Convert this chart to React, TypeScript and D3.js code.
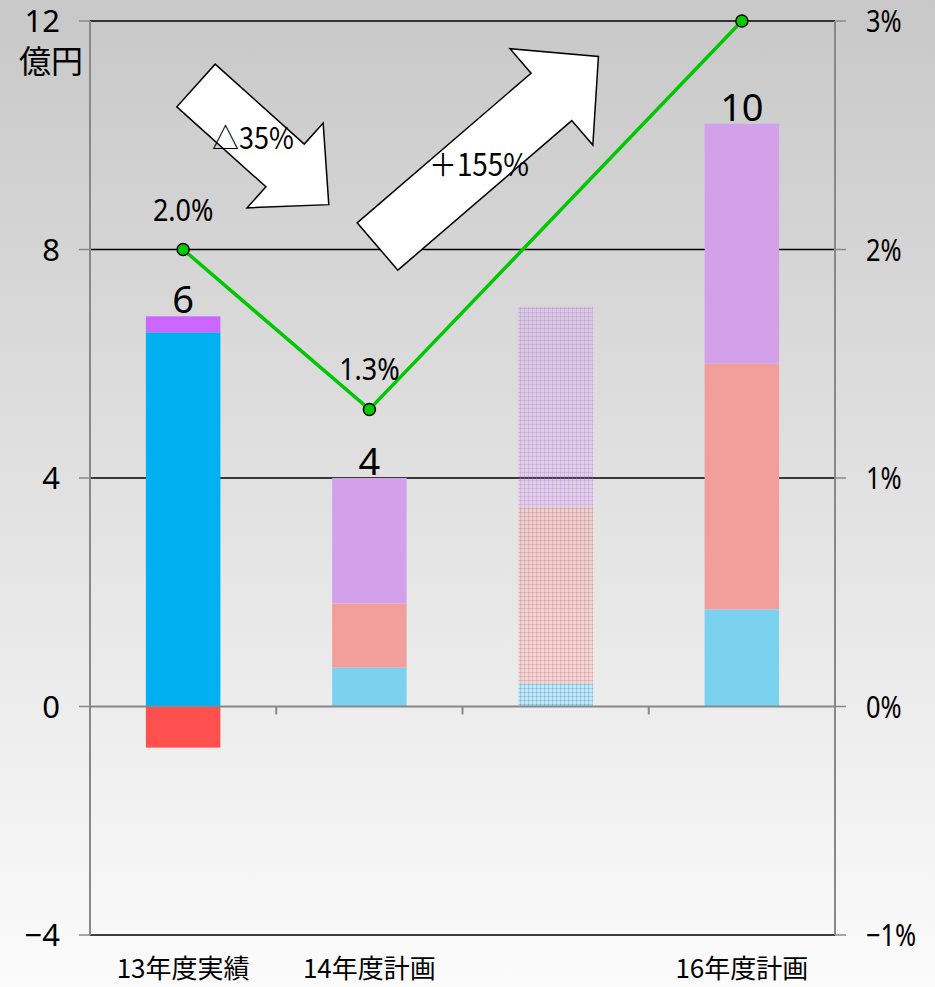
import React from "react";
import * as d3 from "d3";

const categories = ["13年度実績", "14年度計画", "", "16年度計画"];
const blueVals = [6.55, 0.68, 0.4, 1.7];
const redVals = [-0.72, 1.12, 3.1, 4.3];
const purpleVals = [0.28, 2.2, 3.5, 4.2];
const totalLabels = ["6", "4", "", "10"];
const rateVals: (number | null)[] = [2.0, 1.3, null, 3.0];
const rateLabels = ["2.0%", "1.3%", "", ""];
const barStyles = ["solid", "light", "dotted", "light"];
const leftTicks = [-4, 0, 4, 8, 12];
const rightTicks = [-1, 0, 1, 2, 3];
const rightTickLabels = ["−1%", "0%", "1%", "2%", "3%"];

const W = 935;
const H = 987;
const PL = 90;
const PR = 835;
const PT = 21;
const PB = 935;
const FONT = "'Noto Sans CJK JP', 'Noto Sans', sans-serif";
const NUMFONT = "'Noto Sans', 'Noto Sans CJK JP', sans-serif";

const colors: Record<string, Record<string, string>> = {
  solid: { blue: "#00B0F0", red: "#FF5050", purple: "#CC66FF" },
  light: { blue: "#7BD2F0", red: "#F29E9A", purple: "#D3A1EA" },
  dotted: { blue: "url(#dotBlue)", red: "url(#dotRed)", purple: "url(#dotPurple)" },
};

function Arrow({ tx, ty, angle, L, sh, hl, hh }: any) {
  const pts = [
    [0, -sh], [L, -sh], [L, -hh], [L + hl, 0], [L, hh], [L, sh], [0, sh],
  ].map((p) => p.join(",")).join(" ");
  return (
    <polygon
      points={pts}
      transform={`translate(${tx},${ty}) rotate(${angle})`}
      fill="#fff"
      stroke="#000"
      strokeWidth={1.5}
      strokeLinejoin="miter"
    />
  );
}

export default function App() {
  const x = d3.scaleBand<number>().domain(d3.range(categories.length)).range([PL, PR]).paddingInner(0.6).paddingOuter(0.3);
  const step = (PR - PL) / categories.length;
  const y = d3.scaleLinear().domain([-4, 12]).range([PB, PT]);
  const y2 = d3.scaleLinear().domain([-1, 3]).range([PB, PT]);

  const rows = categories.map((c, i) => ({ i, blue: blueVals[i], red: redVals[i], purple: purpleVals[i] }));
  const stacked = d3.stack<any>().keys(["blue", "red", "purple"]).offset(d3.stackOffsetDiverging)(rows);

  const lineData = rateVals
    .map((v, i) => ({ i, v }))
    .filter((d) => d.v !== null) as { i: number; v: number }[];
  const cx = (i: number) => (x(i) as number) + x.bandwidth() / 2;
  const line = d3.line<{ i: number; v: number }>().x((d) => cx(d.i)).y((d) => y2(d.v));

  const tops = categories.map((_, i) => d3.max(stacked, (s) => s[i][1]) as number);

  const pat = (id: string, c: string) => (
    <pattern id={id} width={4} height={4} patternUnits="userSpaceOnUse">
      <rect width={4} height={4} fill={c} opacity={0.12} />
      <rect width={1} height={4} fill={c} opacity={0.3} />
      <rect width={4} height={1} fill={c} opacity={0.3} />
    </pattern>
  );

  return (
    <svg width={W} height={H} style={{ position: "absolute", left: 0, top: 0 }} fontFamily={FONT}>
      <defs>
        <linearGradient id="bg" x1="0" y1="0" x2="0" y2="1">
          <stop offset="0" stopColor="#C8C8C8" />
          <stop offset="1" stopColor="#FBFBFB" />
        </linearGradient>
        {pat("dotBlue", "#00A8F0")}
        {pat("dotRed", "#F06060")}
        {pat("dotPurple", "#C070F0")}
      </defs>
      <rect width={W} height={H} fill="url(#bg)" />

      {/* gridlines */}
      {leftTicks.filter((t) => t !== 0).map((t) => (
        <line key={t} x1={PL} x2={PR} y1={y(t)} y2={y(t)} stroke="#000" strokeWidth={1.5} />
      ))}

      {/* bars */}
      {stacked.map((s) =>
        s.map((d, i) => (
          <rect
            key={s.key + i}
            x={x(i)}
            width={x.bandwidth()}
            y={y(Math.max(d[0], d[1]))}
            height={Math.abs(y(d[0]) - y(d[1]))}
            fill={colors[barStyles[i]][s.key]}
          />
        ))
      )}

      {/* axes */}
      <line x1={PL} x2={PL} y1={PT} y2={PB} stroke="#888" strokeWidth={2} />
      <line x1={PR} x2={PR} y1={PT} y2={PB} stroke="#888" strokeWidth={2} />
      <line x1={PL} x2={PR} y1={y(0)} y2={y(0)} stroke="#888" strokeWidth={2} />
      {d3.range(1, categories.length).map((k) => (
        <line key={k} x1={PL + k * step} x2={PL + k * step} y1={y(0)} y2={y(0) + 8} stroke="#888" strokeWidth={2} />
      ))}
      {leftTicks.map((t) => (
        <g key={t}>
          <line x1={PL - 11} x2={PL} y1={y(t)} y2={y(t)} stroke="#888" strokeWidth={1.5} />
          <text x={60} y={y(t)} dy="0.36em" textAnchor="end" fontSize={31} fontFamily={NUMFONT} fill="#000">
            {t < 0 ? "−" + Math.abs(t) : t}
          </text>
        </g>
      ))}
      {rightTicks.map((t, k) => (
        <g key={t}>
          <line x1={PR} x2={PR + 11} y1={y2(t)} y2={y2(t)} stroke="#888" strokeWidth={1.5} />
          <text transform={`translate(866,${y2(t)}) scale(0.82,1)`} dy="0.36em" textAnchor="start" fontSize={31} fontFamily={NUMFONT} fill="#000">
            {rightTickLabels[k]}
          </text>
        </g>
      ))}
      <text x={51} y={61} dy="0.36em" textAnchor="middle" fontSize={32} fill="#000">億円</text>

      {/* category labels */}
      {categories.map((c, i) => (
        <text key={i} x={cx(i)} y={978} textAnchor="middle" fontSize={26} fill="#000">{c}</text>
      ))}

      {/* total labels */}
      {totalLabels.map((t, i) => (
        <text key={i} x={cx(i)} y={y(tops[i]) - 3} textAnchor="middle" fontSize={38} fontFamily={NUMFONT} fill="#000">{t}</text>
      ))}

      {/* arrows */}
      <Arrow tx={196} ty={85.5} angle={41.9} L={119.7} sh={28.7} hl={58.7} hh={57} />
      <Arrow tx={377.5} ty={246.5} angle={-40.7} L={229.4} sh={31.2} hl={62} hh={63.5} />
      <text transform="translate(253,138) scale(0.9,1)" dy="0.36em" textAnchor="middle" fontSize={30} fill="#000">△35%</text>
      <text transform="translate(479,165) scale(0.9,1)" dy="0.36em" textAnchor="middle" fontSize={31} fill="#000">＋155%</text>

      {/* line */}
      <path d={line(lineData) as string} fill="none" stroke="#00C800" strokeWidth={3.5} />
      {lineData.map((d) => (
        <circle key={d.i} cx={cx(d.i)} cy={y2(d.v)} r={6} fill="#00CC00" stroke="#000" strokeWidth={1.5} />
      ))}
      {rateLabels.map((t, i) =>
        t ? (
          <text key={i} transform={`translate(${cx(i)},${y2(rateVals[i] as number) - 29}) scale(0.87,1)`} textAnchor="middle" fontSize={31} fontFamily={NUMFONT} fill="#000">
            {t}
          </text>
        ) : null
      )}
    </svg>
  );
}
